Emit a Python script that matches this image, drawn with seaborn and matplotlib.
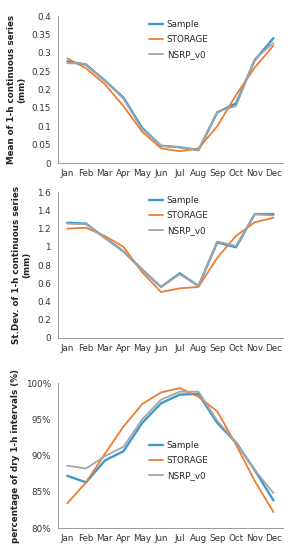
import matplotlib
matplotlib.use("Agg")
import matplotlib.pyplot as plt
import seaborn as sns
import pandas as pd
from matplotlib.ticker import PercentFormatter, FixedLocator

sns.set_style("white")
plt.rcParams["font.family"] = ["DejaVu Sans"]

# ======================
# DATA
# ======================
months = ["Jan", "Feb", "Mar", "Apr", "May", "Jun",
          "Jul", "Aug", "Sep", "Oct", "Nov", "Dec"]
series = ["Sample", "STORAGE", "NSRP_v0"]

mean_sample = [0.277, 0.268, 0.225, 0.178, 0.095, 0.047, 0.043, 0.035, 0.138, 0.162, 0.280, 0.340]
mean_storage = [0.285, 0.258, 0.215, 0.155, 0.085, 0.040, 0.032, 0.040, 0.100, 0.185, 0.260, 0.320]
mean_nsrp = [0.272, 0.270, 0.225, 0.175, 0.092, 0.047, 0.043, 0.035, 0.140, 0.155, 0.283, 0.327]

std_sample = [1.265, 1.255, 1.100, 0.950, 0.750, 0.560, 0.710, 0.570, 1.050, 0.995, 1.360, 1.360]
std_storage = [1.200, 1.210, 1.120, 1.000, 0.720, 0.505, 0.545, 0.560, 0.880, 1.120, 1.270, 1.320]
std_nsrp = [1.255, 1.250, 1.100, 0.950, 0.750, 0.560, 0.700, 0.570, 1.060, 1.010, 1.360, 1.345]

dry_sample = [87.2, 86.3, 89.3, 90.6, 94.5, 97.2, 98.4, 98.5, 94.5, 91.8, 88.0, 83.8]
dry_storage = [83.4, 86.3, 90.2, 94.0, 97.1, 98.7, 99.3, 98.1, 96.1, 91.5, 86.5, 82.2]
dry_nsrp = [88.6, 88.2, 89.9, 91.2, 95.0, 97.7, 98.8, 98.8, 94.8, 91.8, 88.0, 84.8]


def to_long(values):
    rows = []
    for name, vals in zip(series, values):
        for m, v in zip(months, vals):
            rows.append({"Month": m, "Value": v, "Series": name})
    return pd.DataFrame(rows)


palette = {"Sample": "#3A9AD0", "STORAGE": "#EE7D31", "NSRP_v0": "#A5A5A5"}
widths = {"Sample": 1.7, "STORAGE": 1.3, "NSRP_v0": 1.3}

fig = plt.figure(figsize=(2.94, 5.5), dpi=100)
ax1 = fig.add_axes([0.197, 0.7036, 0.765, 0.267])
ax2 = fig.add_axes([0.197, 0.3855, 0.765, 0.265])
ax3 = fig.add_axes([0.197, 0.040, 0.765, 0.2636])

panels = [
    (ax1, [mean_sample, mean_storage, mean_nsrp],
     "Mean of 1-h continuous series\n(mm)", (0, 0.4), [0, 0.05, 0.1, 0.15, 0.2, 0.25, 0.3, 0.35, 0.4],
     (0.39, 1.0)),
    (ax2, [std_sample, std_storage, std_nsrp],
     "St.Dev. of 1-h continuous series\n(mm)", (0, 1.6), [0, 0.2, 0.4, 0.6, 0.8, 1.0, 1.2, 1.4, 1.6],
     (0.39, 1.0)),
    (ax3, [dry_sample, dry_storage, dry_nsrp],
     "percentage of dry 1-h intervals (%)", (80, 100), [80, 85, 90, 95, 100],
     (0.39, 0.625)),
]

for ax, vals, ylabel, ylim, yticks, anchor in panels:
    df = to_long(vals)
    for name in series:
        sns.lineplot(data=df[df["Series"] == name], x="Month", y="Value",
                     color=palette[name], lw=widths[name], label=name,
                     sort=False, ax=ax)
    ax.set_xlim(-0.5, 11.5)
    ax.set_ylim(*ylim)
    ax.set_yticks(yticks)
    if ax is ax3:
        ax.yaxis.set_major_formatter(PercentFormatter(100, decimals=0))
    else:
        ax.set_yticklabels([("%g" % t) for t in yticks])
    ax.set_xticks(range(12))
    ax.set_xticklabels(months)
    ax.xaxis.set_minor_locator(FixedLocator([i - 0.5 for i in range(13)]))
    ax.tick_params(axis="x", which="major", length=0, pad=4, labelsize=6.3, colors="#333333")
    ax.tick_params(axis="x", which="minor", length=3, width=0.6, color="#999999", direction="out")
    ax.tick_params(axis="y", length=3, width=0.6, color="#999999", direction="out",
                   labelsize=6.3, labelcolor="#333333", pad=2)
    for s in ["top", "right"]:
        ax.spines[s].set_visible(False)
    for s in ["left", "bottom"]:
        ax.spines[s].set_color("#999999")
        ax.spines[s].set_linewidth(0.7)
    ax.set_xlabel("")
    ax.set_ylabel(ylabel, fontsize=6.3, fontweight="bold", color="#222222", labelpad=4)
    ax.legend(loc="upper left", bbox_to_anchor=anchor, frameon=False,
              fontsize=6.3, handlelength=1.6, handletextpad=0.4, labelspacing=0.7,
              borderaxespad=0)

plt.savefig("out.png", dpi=100)
plt.close()
